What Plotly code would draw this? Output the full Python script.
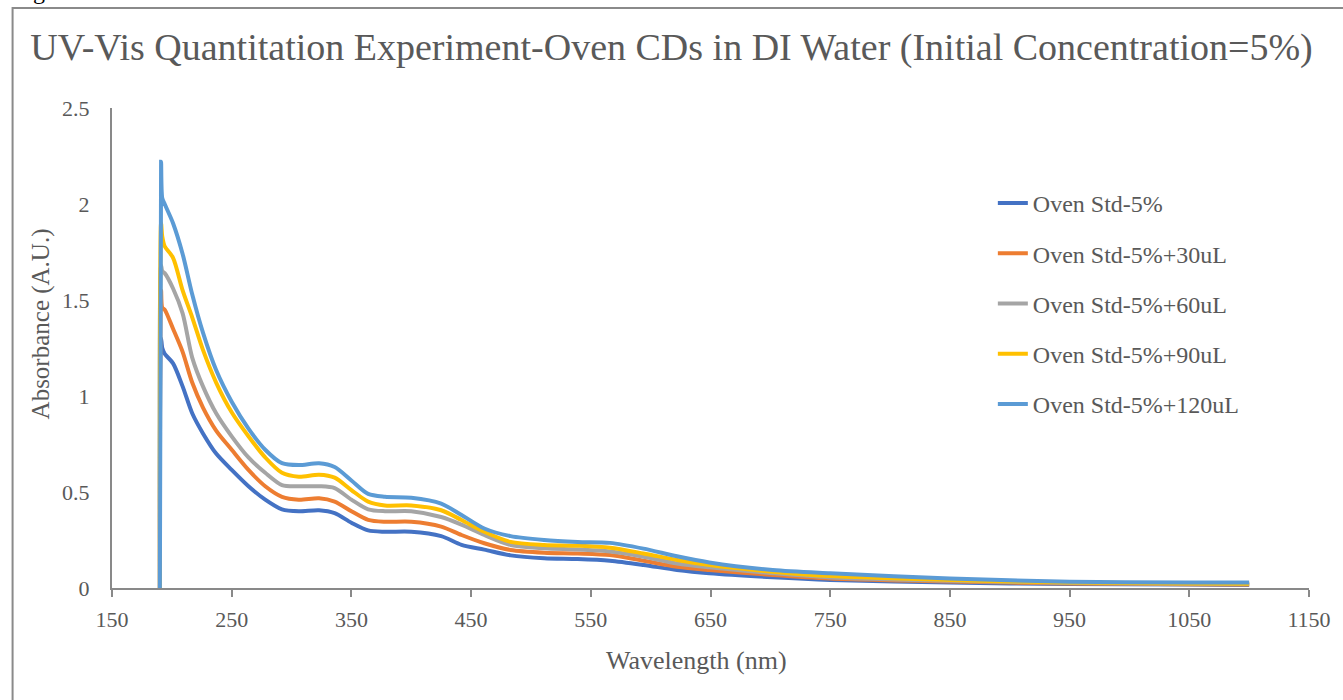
import plotly.graph_objects as go

wavelength = [190, 191, 192, 194, 201, 209, 217, 226, 237, 250, 264, 278, 292, 306, 323, 336,
              350, 364, 378, 400, 425, 442, 461, 483, 511, 539, 566, 594, 622, 649, 702, 750,
              850, 950, 1050, 1100]

std_5 = [0, 1.30, 1.25, 1.22, 1.17, 1.05, 0.91, 0.805, 0.70, 0.615, 0.53, 0.46, 0.41, 0.40, 0.405, 0.39,
         0.34, 0.30, 0.293, 0.293, 0.27, 0.225, 0.20, 0.17, 0.155, 0.151, 0.142, 0.12, 0.094, 0.077, 0.056, 0.042,
         0.028, 0.021, 0.018, 0.016]
std_30 = [0, 1.55, 1.46, 1.45, 1.35, 1.23, 1.07, 0.94, 0.82, 0.72, 0.615, 0.53, 0.475, 0.46, 0.467, 0.45,
          0.40, 0.355, 0.345, 0.345, 0.32, 0.276, 0.233, 0.198, 0.184, 0.18, 0.172, 0.142, 0.111, 0.094, 0.068, 0.05,
          0.034, 0.024, 0.02, 0.018]
std_60 = [0, 1.68, 1.65, 1.64, 1.56, 1.43, 1.20, 1.05, 0.91, 0.79, 0.68, 0.60, 0.536, 0.53, 0.53, 0.52,
          0.46, 0.41, 0.40, 0.40, 0.37, 0.33, 0.276, 0.224, 0.207, 0.20, 0.19, 0.163, 0.128, 0.108, 0.077, 0.055,
          0.038, 0.026, 0.022, 0.02]
std_90 = [0, 1.90, 1.83, 1.78, 1.72, 1.55, 1.41, 1.24, 1.07, 0.915, 0.79, 0.68, 0.60, 0.58, 0.59, 0.575,
          0.51, 0.45, 0.43, 0.43, 0.405, 0.354, 0.293, 0.24, 0.224, 0.22, 0.21, 0.18, 0.146, 0.12, 0.085, 0.062,
          0.042, 0.028, 0.024, 0.022]
std_120 = [0, 2.22, 2.03, 2.00, 1.90, 1.74, 1.53, 1.33, 1.135, 0.97, 0.83, 0.72, 0.65, 0.64, 0.65, 0.63,
           0.56, 0.49, 0.475, 0.47, 0.44, 0.38, 0.31, 0.27, 0.25, 0.24, 0.235, 0.205, 0.165, 0.133, 0.094, 0.077,
           0.05, 0.033, 0.028, 0.028]

series_names = ["Oven Std-5%", "Oven Std-5%+30uL", "Oven Std-5%+60uL", "Oven Std-5%+90uL", "Oven Std-5%+120uL"]
series_values = [std_5, std_30, std_60, std_90, std_120]
colors = ["#4472C4", "#ED7D31", "#A5A5A5", "#FFC000", "#5B9BD5"]

x_ticks = [150, 250, 350, 450, 550, 650, 750, 850, 950, 1050, 1150]
y_ticks = [0, 0.5, 1, 1.5, 2, 2.5]
y_tick_text = ["0", "0.5", "1", "1.5", "2", "2.5"]

FONT = "Liberation Serif, Times New Roman, serif"
GREY = "#595959"

fig = go.Figure()
for name, vals, col in zip(series_names, series_values, colors):
    fig.add_trace(go.Scatter(
        x=wavelength, y=vals, mode="lines", name=name, legendgroup=name,
        line=dict(color=col, width=4, shape="spline", smoothing=0.8),
    ))

# plot area: x 112..1316, y 108..588
L, R, T, B = 112, 27, 108, 112
W, H = 1343 - L - R, 700 - T - B

def px_x(p):
    return (p - L) / W

def px_y(p):
    return (700 - B - p) / H

fig.update_layout(
    width=1343, height=700,
    margin=dict(l=L, r=R, t=T, b=B),
    paper_bgcolor="white", plot_bgcolor="white",
    font=dict(family=FONT, color=GREY),
    title=dict(text="UV-Vis Quantitation Experiment-Oven CDs in DI Water (Initial Concentration=5%)",
               font=dict(family=FONT, size=38, color=GREY),
               x=0.5, xref="container", xanchor="center",
               y=1 - 47 / 700, yref="container", yanchor="middle"),
    xaxis=dict(range=[150, 1150], tickvals=x_ticks, ticks="outside", ticklen=7, tickwidth=2,
               tickcolor="#898989", showline=True, linecolor="#898989", linewidth=2,
               showgrid=False, zeroline=False, tickfont=dict(size=22, color=GREY),
               ticklabelstandoff=4),
    yaxis=dict(range=[0, 2.5], tickvals=y_ticks, ticktext=y_tick_text, ticks="",
               showline=True, linecolor="#898989", linewidth=2,
               showgrid=False, zeroline=False, tickfont=dict(size=22, color=GREY),
               ticklabelstandoff=16),
    legend=dict(x=px_x(998), y=px_y(181), xanchor="left", yanchor="top",
                font=dict(size=24, color=GREY), tracegroupgap=16, bgcolor="rgba(0,0,0,0)"),
    showlegend=True,
)

fig.add_annotation(text="Absorbance (A.U.)", xref="paper", yref="paper",
                   x=px_x(41), y=px_y(324), xanchor="center", yanchor="middle", textangle=-90,
                   showarrow=False, font=dict(family=FONT, size=25, color=GREY))

fig.add_annotation(text="Wavelength (nm)", xref="paper", yref="paper",
                   x=px_x(700), y=px_y(660), xanchor="center", yanchor="middle",
                   showarrow=False, font=dict(family=FONT, size=26, color=GREY))

fig.add_shape(type="rect", xref="paper", yref="paper",
              x0=px_x(12), x1=px_x(1380), y0=px_y(740), y1=px_y(8),
              line=dict(color="#8a8a8a", width=2), fillcolor="rgba(0,0,0,0)", layer="below")

fig.add_annotation(text="Figure 10.", xref="paper", yref="paper",
                   x=px_x(10), y=px_y(-9), xanchor="left", yanchor="middle",
                   showarrow=False, font=dict(family=FONT, size=24, color="black"))

fig.write_html("out.html")
